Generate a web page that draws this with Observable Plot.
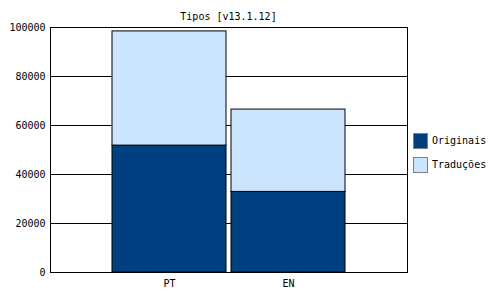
<!DOCTYPE html>
<html>
<head>
<meta charset="utf-8">
<script src="https://cdn.jsdelivr.net/npm/d3@7"></script>
<script src="https://cdn.jsdelivr.net/npm/@observablehq/plot@0.6"></script>
<style>
  body { margin: 0; background: white; color: black; }
  #wrap { position: relative; width: 500px; height: 300px; font-family: "DejaVu Sans Mono", monospace; font-size: 10px; }
  #title { position: absolute; left: 50px; width: 357px; top: 10px; text-align: center; line-height: 14px; }
  .leg { position: absolute; left: 413px; display: flex; align-items: center; line-height: 14px; }
  .sw { width: 13px; height: 14px; border: 1px solid #808080; margin-right: 4px; }
</style>
</head>
<body>
<div id="wrap"></div>
<script>
const categories = ["PT", "EN"];
const series = ["Originais", "Traduções"];
const originais = [51800, 32900];
const traducoes = [46600, 33600];
const yTicks = [0, 20000, 40000, 60000, 80000, 100000];
const colors = ["#004080", "#cce5ff"];
const titleText = "Tipos [v13.1.12]";

const data = categories.flatMap((c, i) => [
  {cat: c, serie: series[0], value: originais[i]},
  {cat: c, serie: series[1], value: traducoes[i]}
]);

const chart = Plot.plot({
  width: 500, height: 300,
  marginLeft: 50, marginRight: 93, marginTop: 27, marginBottom: 28,
  style: {fontFamily: "DejaVu Sans Mono", fontSize: "10px", background: "white", color: "black"},
  x: {domain: categories, paddingInner: 0.042, paddingOuter: 0.521, label: null, tickSize: 0, tickPadding: 7},
  y: {domain: [0, 100000], ticks: yTicks, label: null, tickSize: 0, tickPadding: 5, tickFormat: d => String(d)},
  color: {domain: series, range: colors},
  marks: [
    Plot.gridY(yTicks, {stroke: "black", strokeOpacity: 1}),
    Plot.barY(data, Plot.stackY({x: "cat", y: "value", fill: "serie", stroke: "black", order: series})),
    Plot.frame({stroke: "black"})
  ]
});

const wrap = document.getElementById("wrap");
wrap.appendChild(chart);
const t = document.createElement("div");
t.id = "title"; t.textContent = titleText;
wrap.appendChild(t);
series.forEach((s, i) => {
  const d = document.createElement("div");
  d.className = "leg";
  d.style.top = (133 + i * 24) + "px";
  const sw = document.createElement("div");
  sw.className = "sw"; sw.style.background = colors[i];
  const lab = document.createElement("span");
  lab.textContent = s;
  d.appendChild(sw); d.appendChild(lab);
  wrap.appendChild(d);
});
</script>
</body>
</html>
